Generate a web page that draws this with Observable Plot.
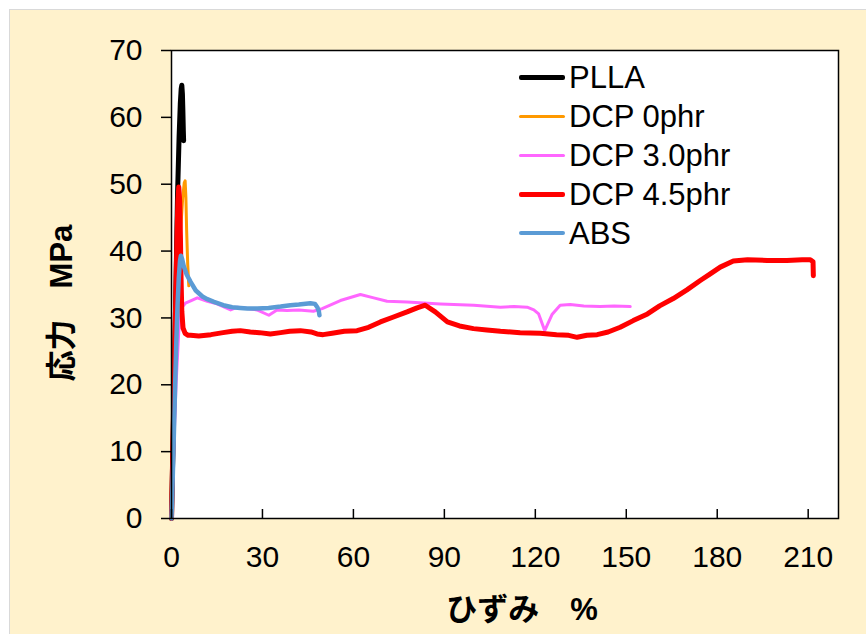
<!DOCTYPE html>
<html><head><meta charset="utf-8">
<script src="https://cdn.jsdelivr.net/npm/d3@7"></script>
<script src="https://cdn.jsdelivr.net/npm/@observablehq/plot@0.6"></script>
<style>
body{margin:0;background:#fff;}
#wrap{position:relative;width:866px;height:634px;overflow:hidden;font-family:"Liberation Sans",Arial,"Noto Sans CJK JP",sans-serif;}
#bg{position:absolute;left:9px;top:9px;width:866px;height:640px;background:#FFF2CC;border:1px solid #D9D9D9;}
#chart{position:absolute;left:0;top:0;}
#legend{position:absolute;left:519px;top:57.5px;}
.row{display:flex;align-items:center;height:39px;}
.sw{width:46px;margin-right:4px;border-radius:2px;}
.lt{font-size:31px;line-height:39px;color:#000;white-space:nowrap;}
#xt{position:absolute;left:372px;width:300px;top:590px;height:40px;line-height:40px;text-align:center;font-size:31px;font-weight:bold;font-family:"Liberation Sans","Noto Sans CJK JP",sans-serif;}
#yt{position:absolute;left:58px;top:303px;transform:translate(-50%,-50%) rotate(-90deg);white-space:nowrap;font-size:31px;font-weight:bold;font-family:"Liberation Sans","Noto Sans CJK JP",sans-serif;}
</style></head>
<body>
<div id="wrap"><div id="bg"></div><div id="chart"></div><div id="legend"></div>
<div id="xt">ひずみ　%</div><div id="yt">応力　MPa</div></div>
<script>
const seriesNames = ["PLLA", "DCP 0phr", "DCP 3.0phr", "DCP 4.5phr", "ABS"];
const seriesColors = ["#000000", "#FF9900", "#FF66FF", "#FF0000", "#5B9BD5"];
const seriesWidths = [5, 3, 3, 5, 4.5];
const xTicks = [0, 30, 60, 90, 120, 150, 180, 210];
const yTicks = [0, 10, 20, 30, 40, 50, 60, 70];

const pllaX = [0, 0.8, 1.4, 2.0, 2.5, 2.9, 3.2, 3.4, 3.6, 3.75, 3.9, 4.0];
const pllaY = [0, 18, 33, 48.6, 57, 62, 64.3, 64.8, 63.5, 61, 58, 56.5];

const dcp0X = [0, 0.6, 1.3, 2.2, 3.0, 3.7, 4.2, 4.5, 4.75, 5.0, 5.35, 5.7];
const dcp0Y = [0, 10, 22, 35, 43, 48, 50.2, 50.5, 48, 43, 38, 34.8];

const dcp30X = [0, 0.7, 1.5, 2.4, 3.3, 4.6, 6.5, 8.5, 11.8, 15, 19.5, 21.7, 25, 28.2, 32.1, 34.8, 38.1, 42, 46.8, 49.7, 55.7, 62.3, 66.7, 71.1, 77.7, 88.7, 99.7, 108.5, 113, 117.3, 119.5, 121.1, 123.1, 125.5, 128.2, 131.5, 136, 141.4, 146, 151.3];
const dcp30Y = [0, 10, 20, 28, 31.5, 32.2, 32.6, 33.0, 32.5, 32.1, 31.2, 31.6, 31.4, 31.2, 30.4, 31.2, 31.1, 31.2, 31.0, 31.4, 32.6, 33.5, 33.0, 32.5, 32.4, 32.1, 31.9, 31.6, 31.7, 31.6, 31.2, 30.6, 28.1, 30.5, 31.9, 32.0, 31.8, 31.7, 31.8, 31.7];

const dcp45X = [0, 0.5, 1.0, 1.4, 1.8, 2.1, 2.4, 2.7, 2.95, 3.15, 3.4, 3.8, 4.5, 5.5, 6.3, 9, 13, 17, 20, 22.7, 26, 29, 32.6, 36, 39, 42.5, 46, 48, 50, 53, 57, 61.2, 65, 68.9, 73, 77.7, 81, 83.7, 87, 91, 95, 99.6, 104, 108.5, 115, 121.6, 127, 131, 133.8, 137, 140.4, 144, 148, 152.3, 157, 161, 165.5, 170, 174.4, 177.7, 181, 185.3, 190, 196.5, 203, 208, 210.7, 211.6, 211.7];
const dcp45Y = [0, 12, 24, 33, 42, 47.5, 49.6, 47.5, 42, 36, 31, 28.5, 27.7, 27.4, 27.4, 27.3, 27.5, 27.8, 28, 28.1, 27.9, 27.8, 27.6, 27.8, 28, 28.1, 27.9, 27.6, 27.5, 27.7, 28, 28.1, 28.6, 29.4, 30.1, 30.9, 31.5, 31.9, 30.9, 29.4, 28.8, 28.4, 28.2, 28.0, 27.8, 27.7, 27.5, 27.4, 27.1, 27.4, 27.5, 27.9, 28.6, 29.6, 30.6, 31.8, 32.9, 34.2, 35.6, 36.6, 37.6, 38.5, 38.7, 38.6, 38.6, 38.7, 38.7, 38.4, 36.3];

const absX = [0, 0.4, 0.8, 1.2, 1.6, 2.0, 2.4, 2.8, 3.1, 3.5, 4.0, 5.0, 6.3, 8.0, 10.2, 11.8, 14, 17.1, 20, 22.7, 25, 28.3, 32, 36, 39.2, 42, 45.8, 47.3, 48.1, 48.6, 48.8];
const absY = [0, 6, 13, 20, 26.6, 32, 36, 38.5, 39.3, 38.8, 37.8, 36.5, 35.4, 34.1, 33.2, 32.8, 32.4, 31.9, 31.6, 31.5, 31.4, 31.4, 31.5, 31.7, 31.9, 32.0, 32.2, 32.1, 31.6, 31.0, 30.4];

const seriesX = [pllaX, dcp0X, dcp30X, dcp45X, absX];
const seriesY = [pllaY, dcp0Y, dcp30Y, dcp45Y, absY];

const lineMarks = seriesNames.map((name, i) => {
  const data = seriesX[i].map((x, j) => ({x, y: seriesY[i][j]}));
  return Plot.line(data, {x: "x", y: "y", stroke: seriesColors[i], strokeWidth: seriesWidths[i], strokeLinejoin: "round", strokeLinecap: "round"});
});

const chart = Plot.plot({
  width: 866, height: 634,
  marginLeft: 171, marginRight: 28, marginTop: 50, marginBottom: 116,
  style: {background: "transparent", fontFamily: '"Liberation Sans", Arial, sans-serif', fontSize: "30px", color: "#000", overflow: "visible"},
  x: {domain: [0, 220]},
  y: {domain: [0, 70]},
  marks: [
    Plot.frame({fill: "white"}),
    ...lineMarks,
    Plot.frame({stroke: "#000", strokeWidth: 1.5}),
    Plot.axisY({ticks: yTicks, tickSize: 10, tickPadding: 19, label: null, stroke: "#000", strokeWidth: 1.5, fill: "#000"}),
    Plot.axisX({ticks: xTicks, tickSize: 0, tickPadding: 27, label: null, fill: "#000"}),
    Plot.tickX(xTicks, {x: d => d, insetTop: 459, stroke: "#000", strokeWidth: 1.5})
  ]
});
document.getElementById("chart").appendChild(chart);

const leg = document.getElementById("legend");
seriesNames.forEach((name, i) => {
  const row = document.createElement("div");
  row.className = "row";
  const sw = document.createElement("div");
  sw.className = "sw";
  sw.style.height = seriesWidths[i] + "px";
  sw.style.background = seriesColors[i];
  const t = document.createElement("span");
  t.className = "lt";
  t.textContent = name;
  row.appendChild(sw); row.appendChild(t);
  leg.appendChild(row);
});
</script>
</body></html>
